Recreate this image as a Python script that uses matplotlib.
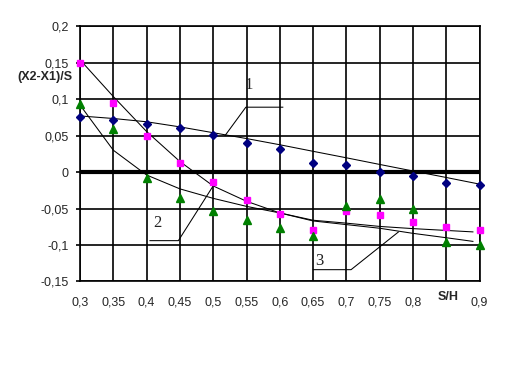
import matplotlib
matplotlib.use('Agg')
import matplotlib.pyplot as plt

plt.rcParams['font.family'] = ['Liberation Sans', 'DejaVu Sans']

# measured points, S/H on x
sh = [0.3, 0.35, 0.4, 0.45, 0.5, 0.55, 0.6, 0.65, 0.7, 0.75, 0.8, 0.85, 0.9]
ser1 = [0.075, 0.072, 0.066, 0.060, 0.051, 0.040, 0.031, 0.013, 0.010, 0.0, -0.005, -0.015, -0.018]
ser2 = [0.150, 0.095, 0.050, 0.013, -0.014, -0.038, -0.058, -0.080, -0.053, -0.059, -0.068, -0.075, -0.080]
ser3 = [0.093, 0.059, -0.008, -0.036, -0.053, -0.065, -0.076, -0.088, -0.047, -0.037, -0.051, -0.096, -0.100]

# trend lines
tr1_x = [0.3, 0.35, 0.4, 0.45, 0.5, 0.55, 0.6, 0.65, 0.7, 0.75, 0.8, 0.85, 0.9, 0.905]
tr1_y = [0.077, 0.0735, 0.069, 0.062, 0.054, 0.046, 0.0375, 0.0285, 0.0196, 0.0105, 0.0015, -0.0074, -0.0165, -0.0175]
tr_x = [0.3, 0.35, 0.4, 0.45, 0.5, 0.55, 0.6, 0.65, 0.7, 0.75, 0.8, 0.85, 0.89]
tr2_y = [0.154, 0.1036, 0.0556, 0.0145, -0.019, -0.040, -0.056, -0.066, -0.070, -0.0745, -0.0775, -0.080, -0.082]
tr3_y = [0.092, 0.030, -0.004, -0.023, -0.036, -0.047, -0.056, -0.067, -0.072, -0.077, -0.084, -0.090, -0.095]

xticks = [0.3, 0.35, 0.4, 0.45, 0.5, 0.55, 0.6, 0.65, 0.7, 0.75, 0.8, 0.85, 0.9]
xlabels = ['0,3', '0,35', '0,4', '0,45', '0,5', '0,55', '0,6', '0,65', '0,7', '0,75', '0,8', '', '0,9']
yticks = [-0.15, -0.1, -0.05, 0, 0.05, 0.1, 0.15, 0.2]
ylabels = ['-0,15', '-0,1', '-0,05', '0', '0,05', '0,1', '0,15', '0,2']

# curve numbers and their leader lines
curve_names = ['1', '2', '3']
name_pos = [(0.554, 0.1196), (0.4157, -0.0699), (0.659, -0.1215)]
leaders = [
    ([0.5178, 0.549, 0.6045], [0.0501, 0.089, 0.089]),
    ([0.405, 0.4477, 0.501], [-0.094, -0.094, -0.0174]),
    ([0.6504, 0.707, 0.778], [-0.1338, -0.1338, -0.0822]),
]

fig = plt.figure(figsize=(5.09, 3.67), dpi=100)
ax = fig.add_axes([0.1572, 0.233, 0.785, 0.6955])

ax.set_xlim(0.3, 0.9)
ax.set_ylim(-0.15, 0.2)
ax.set_xticks(xticks)
ax.set_xticklabels(xlabels)
ax.set_yticks(yticks)
ax.set_yticklabels(ylabels)
ax.grid(True, color='black', lw=1.2)
ax.set_axisbelow(True)
for sp in ax.spines.values():
    sp.set_color('black')
    sp.set_linewidth(1.2)
ax.tick_params(axis='x', length=0, pad=11, labelsize=9, labelcolor='#262626')
ax.tick_params(axis='y', length=3, width=1.2, pad=5, labelsize=9, labelcolor='#262626')

ax.axhline(0, color='black', lw=3, zorder=2)

ax.plot(tr1_x, tr1_y, color='black', lw=0.75, zorder=3)
ax.plot(tr_x, tr2_y, color='black', lw=0.75, zorder=3)
ax.plot(tr_x, tr3_y, color='black', lw=0.75, zorder=3)

ax.plot(sh, ser1, 'D', color='#000080', ms=4.5, ls='none', zorder=4, clip_on=False)
ax.plot(sh, ser2, 's', color='#ff00ff', ms=5, ls='none', zorder=4, clip_on=False)
ax.plot(sh, ser3, '^', color='#008000', ms=5.5, ls='none', zorder=4, clip_on=False)

for (lx, ly) in leaders:
    ax.plot(lx, ly, color='black', lw=0.75, zorder=3)
for name, (nx, ny) in zip(curve_names, name_pos):
    ax.text(nx, ny, name, family='Liberation Serif', fontsize=12, color='#222222',
            ha='center', va='center', zorder=5)

fig.text(72.7 / 509, 1 - 76.7 / 367, '(X2-X1)/S', ha='right', va='center',
         fontsize=9, fontweight='bold', color='#262626')
fig.text(447.7 / 509, 1 - 296.5 / 367, 'S/H', ha='center', va='center',
         fontsize=9, fontweight='bold', color='#262626')

fig.savefig('out.png', dpi=100)
